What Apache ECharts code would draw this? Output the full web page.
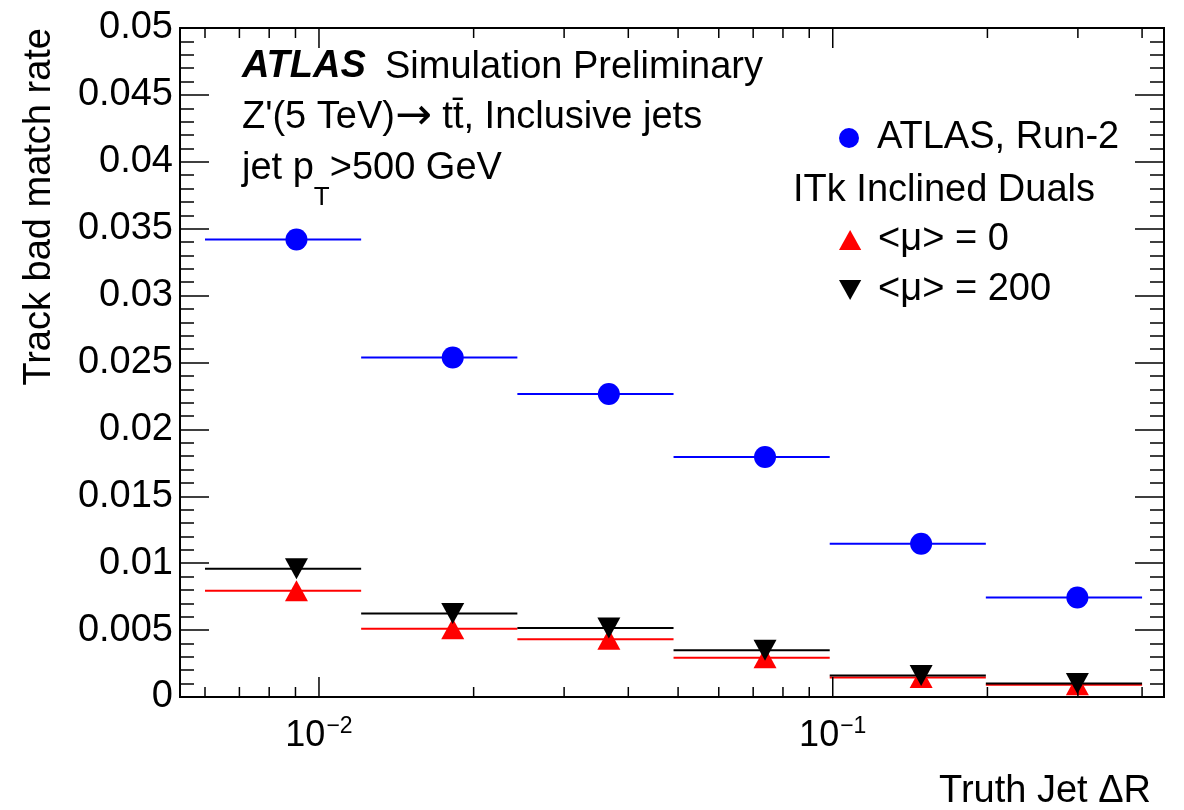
<!DOCTYPE html>
<html><head><meta charset="utf-8">
<script src="https://cdn.jsdelivr.net/npm/echarts@6/dist/echarts.min.js"></script>
<style>html,body{margin:0;padding:0;background:#fff}#c{width:1184px;height:810px}</style>
</head><body><div id="c"></div>
<script>
// ---- data ----
const binEdges   = [0.006, 0.01208, 0.02433, 0.04899, 0.09865, 0.1986, 0.4];
const binCenters = [0.00904, 0.01821, 0.03666, 0.07382, 0.1486, 0.2993];
const run2   = [0.0342, 0.02537, 0.02265, 0.01794, 0.01146, 0.00744];
const mu0    = [0.00794, 0.0051, 0.00432, 0.00293, 0.00146, 0.00091];
const mu200  = [0.00959, 0.00625, 0.00515, 0.0035, 0.00161, 0.00101];
const xMajorTicks = [0.01, 0.1];
const xMinorTicks = [0.006, 0.007, 0.008, 0.009, 0.02, 0.03, 0.04, 0.05, 0.06, 0.07, 0.08, 0.09, 0.2, 0.3, 0.4];
const xRange = [0.005364, 0.4413];
const yMin = 0, yMax = 0.05, yInterval = 0.005;
const seriesNames = ['ATLAS, Run-2', '<\u03bc> = 0', '<\u03bc> = 200'];

const FONT = '"Liberation Sans", Arial, Helvetica, sans-serif';
const chart = echarts.init(document.getElementById('c'), null, {renderer: 'canvas'});

function barData(vals) {
  return vals.map((v, i) => [binEdges[i], binEdges[i + 1], v]);
}
function pointData(vals) {
  return vals.map((v, i) => [binCenters[i], v]);
}
function barRender(color) {
  return function (params, api) {
    const a = api.coord([api.value(0), api.value(2)]);
    const b = api.coord([api.value(1), api.value(2)]);
    return {type: 'line', shape: {x1: a[0], y1: a[1], x2: b[0], y2: b[1]},
            style: {stroke: color, lineWidth: 2}};
  };
}
function tickRender(params, api) {
  const v = api.value(0);
  const major = api.value(1) === 1;
  const len = major ? 20 : 10;
  const b = api.coord([v, yMin]);
  const t = api.coord([v, yMax]);
  return {type: 'group', children: [
    {type: 'line', shape: {x1: b[0], y1: b[1], x2: b[0], y2: b[1] - len}, style: {stroke: '#000', lineWidth: 1.5}},
    {type: 'line', shape: {x1: t[0], y1: t[1], x2: t[0], y2: t[1] + len}, style: {stroke: '#000', lineWidth: 1.5}}
  ]};
}
const tickData = xMajorTicks.map(v => [v, 1]).concat(xMinorTicks.map(v => [v, 0]));

const yAxisBase = {
  type: 'value', min: yMin, max: yMax, interval: yInterval,
  axisLine: {show: false},
  axisTick: {show: true, inside: true, length: 29, lineStyle: {color: '#000', width: 1.5}},
  minorTick: {show: true, splitNumber: 5, length: 14, lineStyle: {color: '#000', width: 1.5}},
  splitLine: {show: false}
};

const legendText = {fontSize: 38, fontFamily: FONT, color: '#000', lineHeight: 40};

const option = {
  backgroundColor: '#fff',
  animation: false,
  grid: {left: 180, right: 20, top: 28, bottom: 113, show: true, borderColor: '#000', borderWidth: 2, backgroundColor: 'transparent'},
  xAxis: [{
    type: 'log', logBase: 10, min: xRange[0], max: xRange[1],
    axisLine: {show: false}, axisTick: {show: false}, splitLine: {show: false}, minorTick: {show: false},
    axisLabel: {
      show: true, margin: 16, color: '#000', showMinLabel: false, showMaxLabel: false,
      formatter: function (v) {
        const e = Math.log10(v), r = Math.round(e);
        if (Math.abs(e - r) > 1e-6) return '';
        return '{b|10}{s|' + (r < 0 ? '\u2212' : '') + Math.abs(r) + '}';
      },
      rich: {
        b: {fontSize: 36, fontFamily: FONT, color: '#000', lineHeight: 36, padding: [10, 0, 0, 0]},
        s: {fontSize: 23, fontFamily: FONT, color: '#000', lineHeight: 23, padding: [7, 0, 16, 1]}
      }
    }
  }],
  yAxis: [
    Object.assign({}, yAxisBase, {position: 'left',
      axisLabel: {show: true, margin: 7, color: '#000', fontSize: 38, fontFamily: FONT}}),
    Object.assign({}, yAxisBase, {position: 'right', axisLabel: {show: false}})
  ],
  legend: [
    {data: [seriesNames[0]], left: 834, top: 113, orient: 'vertical', itemWidth: 46, itemHeight: 20,
     selectedMode: false, textStyle: legendText},
    {data: [seriesNames[1], seriesNames[2]], left: 834, top: 215, orient: 'vertical', itemGap: 10,
     itemWidth: 46, itemHeight: 20, selectedMode: false, textStyle: legendText}
  ],
  graphic: [
    {type: 'text', x: 242, y: 67, style: {text: 'ATLAS', fontSize: 38, fontWeight: 'bold', fontStyle: 'italic', fontFamily: FONT, fill: '#000', verticalAlign: 'middle'}},
    {type: 'text', x: 385, y: 68, style: {text: 'Simulation Preliminary', fontSize: 38, fontFamily: FONT, fill: '#000', verticalAlign: 'middle'}},
    {type: 'text', x: 242, y: 118, style: {
      text: "{n|Z'(5 TeV)}{a|\u2192}{n| tt\u0304, Inclusive jets}", verticalAlign: 'middle', fill: '#000',
      rich: {
        n: {fontSize: 38, fontFamily: FONT, fill: '#000', lineHeight: 44},
        a: {fontSize: 44, fontFamily: '"DejaVu Sans", sans-serif', fill: '#000', lineHeight: 44}
      }}},
    {type: 'text', x: 242, y: 161, style: {
      text: '{n|jet p}{s|T}{n|>500 GeV}', verticalAlign: 'top', fill: '#000',
      rich: {
        n: {fontSize: 38, fontFamily: FONT, fill: '#000', lineHeight: 40, padding: [0, 0, 24, 0]},
        s: {fontSize: 26, fontFamily: FONT, fill: '#000', lineHeight: 26, padding: [36, 0, 2, 0]}
      }}},
    {type: 'text', x: 793, y: 191, style: {text: 'ITk Inclined Duals', fontSize: 38, fontFamily: FONT, fill: '#000', verticalAlign: 'middle'}},
    {type: 'text', x: 40, y: 28, rotation: Math.PI / 2, style: {text: 'Track bad match rate', fontSize: 38, fontFamily: FONT, fill: '#000', align: 'right', verticalAlign: 'middle'}},
    {type: 'text', x: 1151, y: 792, style: {text: 'Truth Jet \u0394R', fontSize: 38, fontFamily: FONT, fill: '#000', align: 'right', verticalAlign: 'middle'}}
  ],
  series: [
    {name: 'xticks', type: 'custom', renderItem: tickRender, data: tickData, encode: {x: 0}, z: 5, silent: true},
    {name: 'run2-bins', type: 'custom', renderItem: barRender('#0000ff'), data: barData(run2), encode: {x: [0, 1], y: 2}, z: 2, silent: true},
    {name: 'mu0-bins', type: 'custom', renderItem: barRender('#ff0000'), data: barData(mu0), encode: {x: [0, 1], y: 2}, z: 2, silent: true},
    {name: 'mu200-bins', type: 'custom', renderItem: barRender('#000000'), data: barData(mu200), encode: {x: [0, 1], y: 2}, z: 2, silent: true},
    {name: seriesNames[0], type: 'scatter', data: pointData(run2), symbol: 'circle', symbolSize: 22,
     itemStyle: {color: '#0000ff', opacity: 1}, z: 3},
    {name: seriesNames[1], type: 'scatter', data: pointData(mu0), symbol: 'path://M10,0L20,18L0,18Z', symbolSize: [23, 21],
     itemStyle: {color: '#ff0000', opacity: 1}, z: 3},
    {name: seriesNames[2], type: 'scatter', data: pointData(mu200), symbol: 'path://M0,0L20,0L10,18Z', symbolSize: [23, 21],
     itemStyle: {color: '#000000', opacity: 1}, z: 4}
  ]
};
chart.setOption(option);
</script></body></html>
